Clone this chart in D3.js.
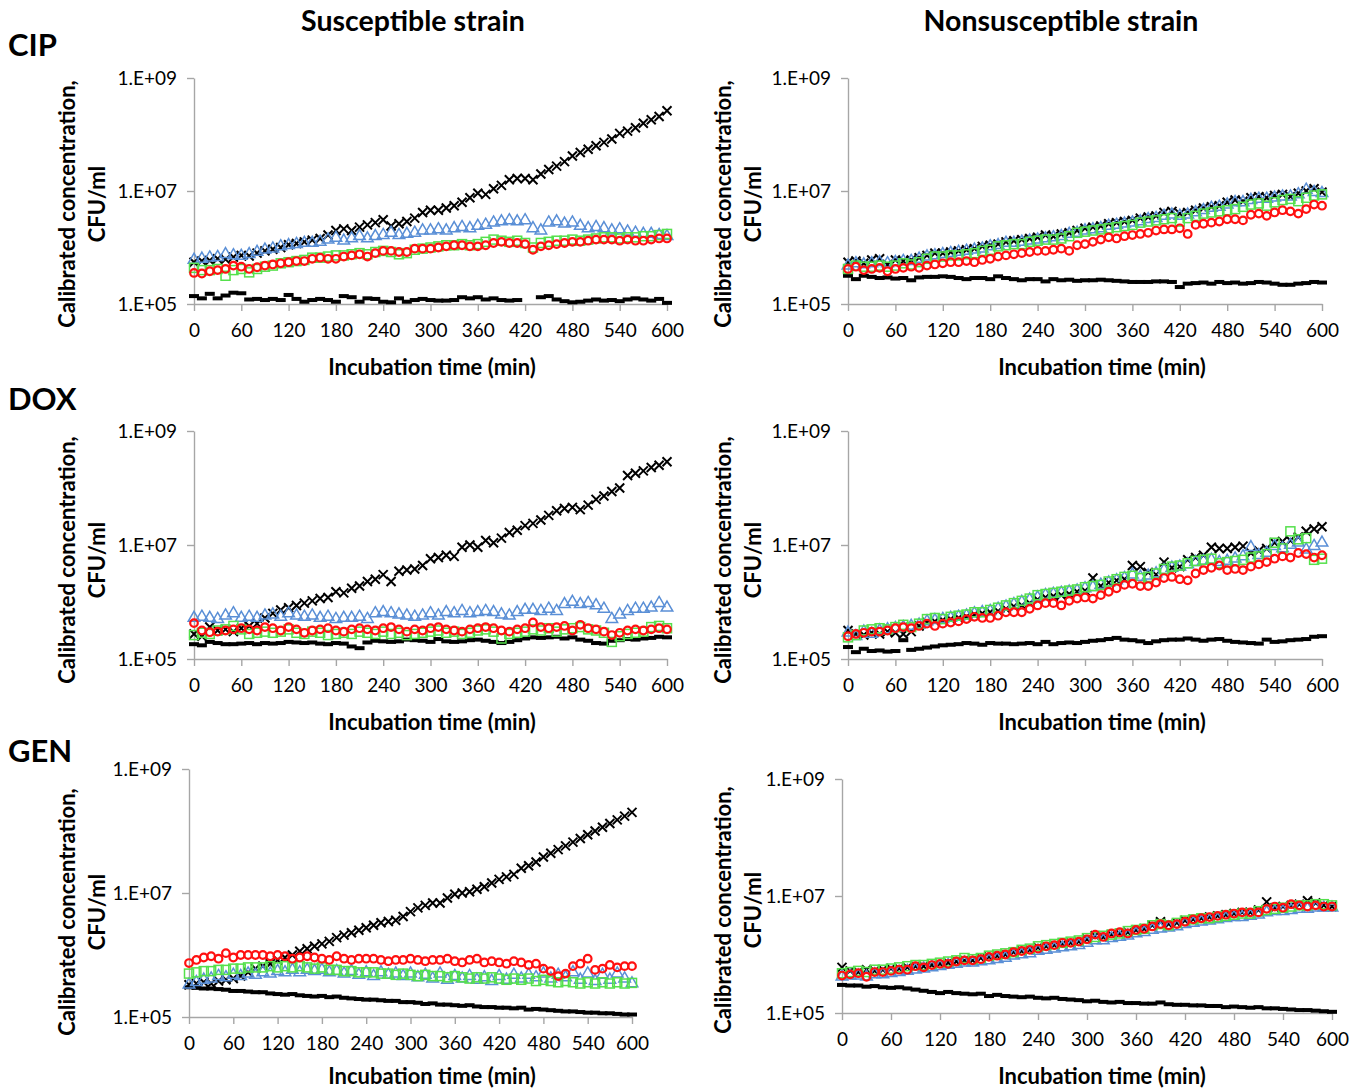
<!DOCTYPE html>
<html>
<head>
<meta charset="utf-8">
<script src="https://cdn.jsdelivr.net/npm/d3@7"></script>
<style>
  body { margin: 0; background: #fff; }
  svg { display: block; font-family: Lato, "Open Sans", sans-serif; }
  .axis path, .axis line { stroke: #a6a6a6; stroke-width: 1.4px; }
  .axis text { fill: #000; font-size: 19px; font-family: Lato, sans-serif; }
  .title { font-weight: bold; fill: #000; }
</style>
</head>
<body>
<script>
// values are log10(CFU/ml), one point every 10 min
var times = [0, 10, 20, 30, 40, 50, 60, 70, 80, 90,
  100, 110, 120, 130, 140, 150, 160, 170, 180, 190,
  200, 210, 220, 230, 240, 250, 260, 270, 280, 290,
  300, 310, 320, 330, 340, 350, 360, 370, 380, 390,
  400, 410, 420, 430, 440, 450, 460, 470, 480, 490,
  500, 510, 520, 530, 540, 550, 560, 570, 580, 590, 600];

var xTicks = [0, 60, 120, 180, 240, 300, 360, 420, 480, 540, 600];
var yTicks = [1e5, 1e7, 1e9];
var yTickLabels = ["1.E+05", "1.E+07", "1.E+09"];
var rowLabels = ["CIP", "DOX", "GEN"];
var colLabels = ["Susceptible strain", "Nonsusceptible strain"];

// CIP, susceptible
var cipSusCross = [5.74, 5.76, 5.77, 5.80, 5.79, 5.83, 5.86, 5.85, 5.90, 5.94,
  5.97, 6.00, 6.05, 6.07, 6.10, 6.13, 6.16, 6.22, 6.30, 6.33,
  6.30, 6.36, 6.40, 6.44, 6.49, 6.38, 6.42, 6.46, 6.52, 6.62,
  6.66, 6.66, 6.70, 6.74, 6.80, 6.88, 6.96, 6.94, 7.04, 7.10,
  7.20, 7.22, 7.22, 7.20, 7.30, 7.38, 7.44, 7.52, 7.62, 7.68,
  7.74, 7.80, 7.86, 7.92, 8.02, 8.06, 8.12, 8.20, 8.26, 8.32, 8.42];
var cipSusTri = [5.78, 5.80, 5.82, 5.83, 5.88, 5.86, 5.85, 5.88, 5.92, 5.96,
  5.98, 6.02, 6.04, 6.06, 6.08, 6.08, 6.10, 6.14, 6.17, 6.12,
  6.16, 6.20, 6.16, 6.20, 6.22, 6.26, 6.22, 6.24, 6.26, 6.30,
  6.30, 6.32, 6.30, 6.34, 6.36, 6.34, 6.38, 6.40, 6.44, 6.46,
  6.48, 6.46, 6.48, 6.34, 6.30, 6.44, 6.46, 6.42, 6.44, 6.38,
  6.34, 6.36, 6.34, 6.30, 6.32, 6.28, 6.26, 6.24, 6.24, 6.22, 6.20];
var cipSusSquare = [5.64, 5.60, 5.60, 5.62, 5.50, 5.60, 5.62, 5.56, 5.62, 5.66,
  5.68, 5.72, 5.74, 5.76, 5.78, 5.82, 5.82, 5.84, 5.86, 5.86,
  5.88, 5.90, 5.88, 5.92, 5.94, 5.92, 5.88, 5.90, 5.96, 5.98,
  6.00, 6.02, 6.04, 6.04, 6.06, 6.04, 6.06, 6.10, 6.14, 6.12,
  6.10, 6.12, 6.08, 6.00, 6.08, 6.10, 6.12, 6.12, 6.14, 6.12,
  6.14, 6.16, 6.18, 6.18, 6.16, 6.18, 6.18, 6.20, 6.20, 6.22, 6.24];
var cipSusCircle = [5.55, 5.54, 5.58, 5.60, 5.62, 5.68, 5.66, 5.62, 5.65, 5.68,
  5.70, 5.72, 5.74, 5.76, 5.76, 5.80, 5.82, 5.80, 5.80, 5.84,
  5.86, 5.88, 5.84, 5.90, 5.94, 5.94, 5.92, 5.92, 5.98, 5.98,
  5.98, 6.00, 6.02, 6.04, 6.04, 6.02, 6.02, 6.04, 6.08, 6.10,
  6.08, 6.08, 6.06, 5.96, 6.02, 6.04, 6.06, 6.08, 6.10, 6.10,
  6.12, 6.14, 6.14, 6.14, 6.12, 6.14, 6.12, 6.12, 6.14, 6.16, 6.16];
var cipSusDash = [5.14, 5.10, 5.18, 5.10, 5.15, 5.20, 5.19, 5.08, 5.09, 5.07,
  5.09, 5.07, 5.16, 5.09, 5.04, 5.07, 5.09, 5.07, 5.04, 5.14,
  5.12, 5.04, 5.10, 5.09, 5.04, 5.03, 5.10, 5.04, 5.07, 5.09,
  5.07, 5.06, 5.06, 5.07, 5.12, 5.10, 5.12, 5.08, 5.10, 5.07,
  5.06, 5.07, null, null, 5.12, 5.14, 5.08, 5.05, 5.03, 5.04,
  5.06, 5.08, 5.06, 5.07, 5.05, 5.08, 5.10, 5.08, 5.06, 5.09, 5.02];

// CIP, nonsusceptible
var cipNonCross = [5.74, 5.76, 5.72, 5.78, 5.80, 5.70, 5.78, 5.76, 5.78, 5.82,
  5.86, 5.90, 5.90, 5.92, 5.94, 5.96, 5.98, 6.02, 6.04, 6.06,
  6.10, 6.12, 6.14, 6.16, 6.18, 6.22, 6.20, 6.24, 6.26, 6.30,
  6.34, 6.36, 6.38, 6.42, 6.44, 6.46, 6.48, 6.52, 6.54, 6.56,
  6.62, 6.64, 6.60, 6.62, 6.66, 6.70, 6.72, 6.74, 6.80, 6.84,
  6.82, 6.88, 6.90, 6.88, 6.92, 6.94, 6.90, 6.96, 7.00, 7.04, 6.98];
var cipNonTri = [5.68, 5.72, 5.70, 5.72, 5.74, 5.72, 5.74, 5.76, 5.76, 5.80,
  5.84, 5.86, 5.88, 5.90, 5.92, 5.94, 5.96, 5.98, 6.02, 6.04,
  6.08, 6.08, 6.10, 6.12, 6.14, 6.16, 6.18, 6.20, 6.24, 6.26,
  6.30, 6.32, 6.34, 6.38, 6.40, 6.42, 6.44, 6.46, 6.50, 6.52,
  6.56, 6.58, 6.56, 6.58, 6.62, 6.66, 6.70, 6.72, 6.76, 6.80,
  6.80, 6.84, 6.86, 6.86, 6.88, 6.90, 6.90, 6.94, 7.02, 6.98, 6.96];
var cipNonSquare = [5.62, 5.68, 5.66, 5.66, 5.68, 5.66, 5.68, 5.72, 5.70, 5.74,
  5.80, 5.84, 5.84, 5.86, 5.86, 5.88, 5.90, 5.94, 5.96, 6.02,
  6.04, 6.06, 6.06, 6.10, 6.12, 6.14, 6.14, 6.16, 6.20, 6.26,
  6.28, 6.30, 6.32, 6.34, 6.36, 6.38, 6.40, 6.44, 6.46, 6.48,
  6.50, 6.52, 6.46, 6.52, 6.56, 6.60, 6.62, 6.64, 6.66, 6.68,
  6.72, 6.76, 6.78, 6.74, 6.80, 6.84, 6.86, 6.82, 6.88, 6.92, 6.94];
var cipNonCircle = [5.62, 5.66, 5.60, 5.62, 5.64, 5.58, 5.62, 5.64, 5.66, 5.64,
  5.68, 5.70, 5.72, 5.74, 5.74, 5.76, 5.74, 5.78, 5.80, 5.84,
  5.86, 5.88, 5.90, 5.92, 5.94, 5.94, 5.96, 5.98, 5.94, 6.04,
  6.06, 6.10, 6.14, 6.18, 6.16, 6.20, 6.22, 6.24, 6.26, 6.30,
  6.32, 6.32, 6.34, 6.24, 6.40, 6.42, 6.44, 6.46, 6.50, 6.50,
  6.48, 6.58, 6.60, 6.56, 6.62, 6.66, 6.64, 6.60, 6.68, 6.76, 6.74];
var cipNonDash = [5.50, 5.44, 5.50, 5.48, 5.46, 5.47, 5.45, 5.46, 5.42, 5.47,
  5.48, 5.48, 5.49, 5.48, 5.46, 5.44, 5.46, 5.46, 5.44, 5.49,
  5.46, 5.44, 5.42, 5.44, 5.44, 5.40, 5.44, 5.42, 5.43, 5.41,
  5.42, 5.42, 5.43, 5.42, 5.41, 5.40, 5.39, 5.39, 5.39, 5.40,
  5.40, 5.39, 5.30, 5.36, 5.37, 5.38, 5.36, 5.39, 5.37, 5.38,
  5.36, 5.37, 5.39, 5.38, 5.36, 5.34, 5.34, 5.36, 5.37, 5.39, 5.38];

// DOX, susceptible
var doxSusCross = [5.44, 5.40, 5.56, 5.50, 5.52, 5.48, 5.54, 5.58, 5.62, 5.72,
  5.80, 5.86, 5.90, 5.94, 5.98, 6.02, 6.06, 6.08, 6.18, 6.16,
  6.24, 6.28, 6.36, 6.40, 6.48, 6.36, 6.54, 6.56, 6.58, 6.64,
  6.76, 6.78, 6.82, 6.80, 6.96, 7.00, 6.96, 7.08, 7.04, 7.12,
  7.22, 7.26, 7.34, 7.38, 7.44, 7.52, 7.60, 7.64, 7.66, 7.62,
  7.70, 7.80, 7.86, 7.94, 8.00, 8.22, 8.26, 8.30, 8.36, 8.40, 8.46];
var doxSusTri = [5.72, 5.74, 5.72, 5.70, 5.76, 5.80, 5.72, 5.74, 5.72, 5.76,
  5.78, 5.74, 5.80, 5.76, 5.74, 5.76, 5.72, 5.74, 5.70, 5.72,
  5.72, 5.74, 5.70, 5.80, 5.82, 5.80, 5.78, 5.76, 5.74, 5.76,
  5.80, 5.76, 5.82, 5.80, 5.84, 5.80, 5.82, 5.84, 5.82, 5.78,
  5.76, 5.82, 5.86, 5.86, 5.84, 5.88, 5.84, 5.96, 6.00, 5.96,
  5.98, 5.94, 5.88, 5.70, 5.78, 5.84, 5.88, 5.88, 5.90, 5.98, 5.90];
var doxSusSquare = [5.42, 5.46, 5.44, 5.50, 5.52, 5.58, 5.52, 5.44, 5.46, 5.48,
  5.46, 5.48, 5.52, 5.46, 5.44, 5.48, 5.46, 5.42, 5.44, 5.46,
  5.44, 5.48, 5.46, 5.44, 5.48, 5.44, 5.46, 5.42, 5.44, 5.46,
  5.48, 5.50, 5.46, 5.48, 5.44, 5.46, 5.50, 5.52, 5.48, 5.36,
  5.44, 5.46, 5.48, 5.52, 5.50, 5.54, 5.48, 5.52, 5.54, 5.56,
  5.52, 5.50, 5.46, 5.30, 5.40, 5.44, 5.46, 5.48, 5.56, 5.58, 5.54];
var doxSusCircle = [5.63, 5.50, 5.47, 5.48, 5.50, 5.52, 5.54, 5.52, 5.50, 5.56,
  5.54, 5.50, 5.56, 5.52, 5.46, 5.50, 5.52, 5.54, 5.50, 5.48,
  5.52, 5.54, 5.52, 5.50, 5.54, 5.56, 5.52, 5.48, 5.52, 5.50,
  5.54, 5.56, 5.52, 5.50, 5.48, 5.52, 5.54, 5.56, 5.54, 5.50,
  5.48, 5.52, 5.54, 5.64, 5.56, 5.54, 5.56, 5.58, 5.50, 5.60,
  5.54, 5.52, 5.48, 5.42, 5.46, 5.50, 5.52, 5.50, 5.52, 5.54, 5.52];
var doxSusDash = [5.26, 5.24, 5.30, 5.28, 5.26, 5.26, 5.27, 5.28, 5.26, 5.28,
  5.27, 5.28, 5.30, 5.29, 5.28, 5.29, 5.27, 5.26, 5.28, 5.27,
  5.22, 5.19, 5.29, 5.32, 5.31, 5.30, 5.31, 5.34, 5.33, 5.32,
  5.30, 5.35, 5.31, 5.30, 5.31, 5.33, 5.34, 5.32, 5.30, 5.28,
  5.30, 5.33, 5.36, 5.38, 5.37, 5.38, 5.39, 5.36, 5.38, 5.34,
  5.32, 5.28, 5.27, 5.32, 5.33, 5.35, 5.34, 5.36, 5.37, 5.39, 5.38];

// DOX, nonsusceptible
var doxNonCross = [5.50, 5.44, 5.42, 5.46, 5.44, 5.48, 5.46, 5.44, 5.48, 5.58,
  5.64, 5.66, 5.68, 5.70, 5.72, 5.74, 5.78, 5.80, 5.82, 5.84,
  5.88, 5.92, 5.94, 5.98, 6.04, 6.08, 6.10, 6.12, 6.14, 6.18,
  6.20, 6.42, 6.28, 6.34, 6.38, 6.40, 6.64, 6.62, 6.52, 6.48,
  6.70, 6.60, 6.62, 6.74, 6.78, 6.82, 6.96, 6.94, 6.94, 6.96,
  6.98, 6.86, 6.90, 6.94, 7.04, 7.06, 7.08, 7.14, 7.24, 7.28, 7.32];
var doxNonTri = [5.46, 5.40, 5.48, 5.44, 5.50, 5.52, 5.54, 5.56, 5.58, 5.60,
  5.66, 5.68, 5.70, 5.72, 5.74, 5.76, 5.80, 5.82, 5.84, 5.88,
  5.92, 5.96, 6.00, 6.04, 6.08, 6.12, 6.14, 6.16, 6.18, 6.20,
  6.24, 6.26, 6.30, 6.34, 6.38, 6.42, 6.48, 6.44, 6.46, 6.50,
  6.56, 6.60, 6.62, 6.66, 6.70, 6.72, 6.74, 6.70, 6.72, 6.76,
  6.80, 6.96, 6.82, 6.86, 6.98, 6.94, 7.00, 7.04, 6.92, 6.98, 7.04];
var doxNonSquare = [5.38, 5.42, 5.50, 5.52, 5.54, 5.52, 5.56, 5.60, 5.56, 5.62,
  5.70, 5.72, 5.70, 5.74, 5.76, 5.78, 5.82, 5.82, 5.86, 5.90,
  5.94, 5.98, 6.02, 6.06, 6.12, 6.14, 6.16, 6.18, 6.20, 6.22,
  6.26, 6.28, 6.30, 6.36, 6.40, 6.44, 6.46, 6.42, 6.44, 6.50,
  6.58, 6.62, 6.64, 6.68, 6.72, 6.74, 6.76, 6.68, 6.70, 6.72,
  6.74, 6.78, 6.80, 6.84, 7.04, 6.94, 7.24, 7.10, 7.12, 6.74, 6.76];
var doxNonCircle = [5.40, 5.44, 5.46, 5.48, 5.48, 5.50, 5.54, 5.56, 5.54, 5.58,
  5.62, 5.58, 5.62, 5.64, 5.66, 5.70, 5.74, 5.72, 5.72, 5.76,
  5.82, 5.82, 5.82, 5.88, 5.94, 5.98, 5.98, 5.94, 6.02, 6.06,
  6.08, 6.06, 6.12, 6.18, 6.24, 6.30, 6.32, 6.28, 6.28, 6.34,
  6.42, 6.44, 6.40, 6.38, 6.50, 6.56, 6.60, 6.64, 6.56, 6.58,
  6.56, 6.62, 6.66, 6.70, 6.76, 6.80, 6.78, 6.86, 6.84, 6.78, 6.82];
var doxNonDash = [5.21, 5.12, 5.18, 5.14, 5.15, 5.13, 5.14, 5.33, 5.16, 5.18,
  5.20, 5.22, 5.24, 5.25, 5.26, 5.28, 5.27, 5.25, 5.28, 5.27,
  5.27, 5.26, 5.27, 5.28, 5.26, 5.30, 5.26, 5.28, 5.29, 5.28,
  5.30, 5.32, 5.33, 5.35, 5.37, 5.34, 5.33, 5.31, 5.28, 5.31,
  5.33, 5.34, 5.34, 5.36, 5.34, 5.32, 5.34, 5.35, 5.32, 5.30,
  5.29, 5.28, 5.27, 5.34, 5.30, 5.31, 5.33, 5.34, 5.35, 5.39, 5.40];

// GEN, susceptible
var genSusCross = [5.52, 5.54, 5.56, 5.54, 5.58, 5.60, 5.62, 5.66, 5.72, 5.78,
  5.82, 5.86, 5.92, 5.96, 6.00, 6.06, 6.10, 6.14, 6.18, 6.22,
  6.28, 6.32, 6.36, 6.40, 6.44, 6.48, 6.52, 6.54, 6.56, 6.62,
  6.70, 6.76, 6.80, 6.84, 6.84, 6.92, 6.98, 7.00, 7.02, 7.06,
  7.10, 7.16, 7.22, 7.26, 7.30, 7.40, 7.44, 7.50, 7.58, 7.64,
  7.70, 7.76, 7.82, 7.88, 7.94, 8.00, 8.06, 8.12, 8.18, 8.24, 8.30];
var genSusTri = [5.52, 5.56, 5.60, 5.62, 5.66, 5.64, 5.68, 5.66, 5.70, 5.68,
  5.72, 5.70, 5.74, 5.72, 5.76, 5.72, 5.76, 5.74, 5.76, 5.72,
  5.74, 5.70, 5.74, 5.68, 5.72, 5.66, 5.72, 5.68, 5.70, 5.66,
  5.70, 5.64, 5.68, 5.62, 5.70, 5.60, 5.66, 5.62, 5.66, 5.60,
  5.64, 5.58, 5.66, 5.60, 5.68, 5.62, 5.68, 5.64, 5.70, 5.62,
  5.68, 5.64, 5.72, 5.60, 5.70, 5.58, 5.68, 5.60, 5.70, 5.62, 5.54];
var genSusSquare = [5.70, 5.72, 5.74, 5.74, 5.76, 5.76, 5.78, 5.78, 5.80, 5.80,
  5.80, 5.82, 5.80, 5.82, 5.80, 5.82, 5.80, 5.78, 5.80, 5.76,
  5.76, 5.74, 5.74, 5.72, 5.72, 5.72, 5.70, 5.70, 5.68, 5.70,
  5.68, 5.66, 5.68, 5.66, 5.66, 5.64, 5.66, 5.64, 5.62, 5.64,
  5.62, 5.64, 5.62, 5.60, 5.62, 5.60, 5.62, 5.58, 5.60, 5.58,
  5.56, 5.58, 5.56, 5.54, 5.56, 5.54, 5.56, 5.54, 5.56, 5.54, 5.55];
var genSusCircle = [5.87, 5.92, 5.96, 5.98, 5.94, 6.03, 5.96, 6.00, 6.00, 6.00,
  6.00, 5.98, 6.00, 5.98, 5.94, 5.96, 5.98, 5.96, 5.94, 5.92,
  5.98, 5.94, 5.92, 5.94, 5.94, 5.94, 5.92, 5.90, 5.92, 5.92,
  5.94, 5.92, 5.90, 5.92, 5.92, 5.94, 5.90, 5.88, 5.92, 5.94,
  5.88, 5.90, 5.88, 5.86, 5.90, 5.88, 5.84, 5.86, 5.78, 5.74,
  5.66, 5.70, 5.82, 5.86, 5.94, 5.76, 5.78, 5.84, 5.80, 5.82, 5.82];
var genSusDash = [5.48, 5.47, 5.46, 5.46, 5.45, 5.44, 5.42, 5.42, 5.41, 5.40,
  5.40, 5.38, 5.37, 5.36, 5.37, 5.35, 5.34, 5.33, 5.34, 5.32,
  5.33, 5.31, 5.30, 5.29, 5.28, 5.28, 5.27, 5.26, 5.26, 5.24,
  5.24, 5.23, 5.21, 5.22, 5.20, 5.20, 5.19, 5.18, 5.19, 5.17,
  5.16, 5.16, 5.15, 5.15, 5.14, 5.15, 5.12, 5.13, 5.12, 5.11,
  5.10, 5.09, 5.09, 5.08, 5.07, 5.07, 5.06, 5.06, 5.05, 5.04, 5.04];

// GEN, nonsusceptible
var genNonCross = [5.78, 5.72, 5.70, 5.74, 5.72, 5.74, 5.76, 5.76, 5.78, 5.80,
  5.80, 5.82, 5.84, 5.86, 5.88, 5.90, 5.90, 5.94, 5.96, 5.98,
  6.00, 6.04, 6.06, 6.08, 6.12, 6.14, 6.16, 6.18, 6.20, 6.22,
  6.26, 6.32, 6.30, 6.34, 6.36, 6.38, 6.42, 6.44, 6.50, 6.56,
  6.52, 6.54, 6.58, 6.60, 6.62, 6.64, 6.66, 6.68, 6.70, 6.72,
  6.72, 6.76, 6.90, 6.80, 6.82, 6.84, 6.86, 6.92, 6.88, 6.84, 6.82];
var genNonTri = [5.62, 5.64, 5.64, 5.62, 5.66, 5.66, 5.68, 5.70, 5.72, 5.74,
  5.76, 5.78, 5.80, 5.82, 5.84, 5.86, 5.86, 5.88, 5.90, 5.92,
  5.94, 5.98, 6.00, 6.02, 6.06, 6.08, 6.10, 6.12, 6.14, 6.16,
  6.20, 6.24, 6.24, 6.28, 6.30, 6.32, 6.36, 6.38, 6.42, 6.44,
  6.46, 6.48, 6.52, 6.54, 6.56, 6.58, 6.60, 6.62, 6.64, 6.64,
  6.66, 6.68, 6.72, 6.74, 6.74, 6.76, 6.78, 6.78, 6.80, 6.80, 6.80];
var genNonSquare = [5.68, 5.70, 5.72, 5.70, 5.74, 5.74, 5.76, 5.78, 5.80, 5.82,
  5.82, 5.84, 5.86, 5.88, 5.90, 5.94, 5.92, 5.94, 5.98, 6.00,
  6.02, 6.04, 6.08, 6.10, 6.14, 6.16, 6.18, 6.20, 6.22, 6.24,
  6.28, 6.30, 6.32, 6.34, 6.36, 6.40, 6.42, 6.44, 6.50, 6.52,
  6.50, 6.54, 6.58, 6.60, 6.62, 6.62, 6.64, 6.66, 6.68, 6.70,
  6.70, 6.74, 6.76, 6.78, 6.80, 6.82, 6.84, 6.84, 6.86, 6.86, 6.84];
var genNonCircle = [5.64, 5.66, 5.68, 5.62, 5.70, 5.70, 5.72, 5.74, 5.74, 5.80,
  5.78, 5.82, 5.84, 5.84, 5.88, 5.90, 5.90, 5.92, 5.96, 5.98,
  6.00, 6.04, 6.06, 6.08, 6.10, 6.14, 6.16, 6.20, 6.20, 6.22,
  6.26, 6.34, 6.30, 6.36, 6.38, 6.36, 6.42, 6.44, 6.48, 6.52,
  6.50, 6.52, 6.56, 6.60, 6.62, 6.64, 6.66, 6.68, 6.70, 6.72,
  6.72, 6.72, 6.78, 6.82, 6.80, 6.86, 6.84, 6.82, 6.84, 6.82, 6.82];
var genNonDash = [5.48, 5.47, 5.47, 5.45, 5.46, 5.44, 5.43, 5.44, 5.42, 5.40,
  5.38, 5.36, 5.34, 5.36, 5.34, 5.33, 5.32, 5.33, 5.29, 5.31,
  5.29, 5.28, 5.27, 5.28, 5.26, 5.25, 5.26, 5.24, 5.23, 5.22,
  5.20, 5.21, 5.19, 5.18, 5.19, 5.17, 5.17, 5.16, 5.16, 5.18,
  5.15, 5.14, 5.14, 5.13, 5.13, 5.12, 5.12, 5.10, 5.11, 5.10,
  5.09, 5.10, 5.08, 5.08, 5.07, 5.06, 5.05, 5.05, 5.04, 5.03, 5.02];

var panels = [
  {dash: cipSusDash, cross: cipSusCross, tri: cipSusTri, square: cipSusSquare, circle: cipSusCircle},
  {dash: cipNonDash, cross: cipNonCross, tri: cipNonTri, square: cipNonSquare, circle: cipNonCircle},
  {dash: doxSusDash, cross: doxSusCross, tri: doxSusTri, square: doxSusSquare, circle: doxSusCircle},
  {dash: doxNonDash, cross: doxNonCross, tri: doxNonTri, square: doxNonSquare, circle: doxNonCircle},
  {dash: genSusDash, cross: genSusCross, tri: genSusTri, square: genSusSquare, circle: genSusCircle},
  {dash: genNonDash, cross: genNonCross, tri: genNonTri, square: genNonSquare, circle: genNonCircle}
];

// where each plot sits on the page
var boxes = [
  {x0: 194, x1: 667, top: 78, bottom: 304, titleX: 432, titleY: 375, ytX: 67, ytY: 204},
  {x0: 848, x1: 1322, top: 78, bottom: 304, titleX: 1102, titleY: 375, ytX: 723, ytY: 204},
  {x0: 194, x1: 667, top: 431, bottom: 659, titleX: 432, titleY: 730, ytX: 67, ytY: 560},
  {x0: 848, x1: 1322, top: 431, bottom: 659, titleX: 1102, titleY: 730, ytX: 723, ytY: 560},
  {x0: 189, x1: 632, top: 769, bottom: 1017, titleX: 432, titleY: 1084, ytX: 67, ytY: 912},
  {x0: 842, x1: 1332, top: 779, bottom: 1013, titleX: 1102, titleY: 1084, ytX: 723, ytY: 910}
];

var svg = d3.select("body").append("svg")
  .attr("width", 1362)
  .attr("height", 1089);

svg.selectAll("text.col")
  .data(colLabels)
  .enter().append("text")
  .attr("class", "title col")
  .attr("x", (d, i) => i == 0 ? 413 : 1061)
  .attr("y", 31)
  .attr("text-anchor", "middle")
  .style("font-size", "28.5px")
  .text(d => d);

svg.selectAll("text.row")
  .data(rowLabels)
  .enter().append("text")
  .attr("class", "title row")
  .attr("x", 8)
  .attr("y", (d, i) => [56, 410, 762][i])
  .style("font-size", "31px")
  .text(d => d);

var blue = "#5a8fd6";
var green = "#55e04c";
var red = "#ff1010";

panels.forEach(function(p, k) {
  var b = boxes[k];
  var x = d3.scaleLinear().domain([0, 600]).range([b.x0, b.x1]);
  var y = d3.scaleLog().domain([1e5, 1e9]).range([b.bottom, b.top]);
  var g = svg.append("g");

  g.append("g")
    .attr("class", "axis")
    .attr("transform", `translate(0, ${b.bottom})`)
    .call(d3.axisBottom(x).tickValues(xTicks).tickSize(7).tickSizeOuter(0).tickPadding(13));

  g.append("g")
    .attr("class", "axis")
    .attr("transform", `translate(${b.x0}, 0)`)
    .call(d3.axisLeft(y).tickValues(yTicks).tickFormat((d, i) => yTickLabels[i]).tickSize(7).tickSizeOuter(0).tickPadding(10));

  g.append("text")
    .attr("class", "title")
    .attr("x", b.titleX)
    .attr("y", b.titleY)
    .attr("text-anchor", "middle")
    .style("font-size", "22px")
    .text("Incubation time (min)");

  ["Calibrated concentration,", "CFU/ml"].forEach(function(line, i) {
    g.append("text")
      .attr("class", "title")
      .attr("transform", `translate(${b.ytX + i * 30}, ${b.ytY}) rotate(-90)`)
      .attr("text-anchor", "middle")
      .attr("dy", "0.36em")
      .style("font-size", "22px")
      .text(line);
  });

  function pts(vals) {
    return vals.map((v, i) => ({t: times[i], v: v})).filter(d => d.v != null);
  }
  function pos(d) {
    return `translate(${x(d.t)}, ${y(Math.pow(10, d.v))})`;
  }

  g.selectAll(".dash").data(pts(p.dash)).enter().append("rect")
    .attr("class", "dash")
    .attr("transform", pos)
    .attr("x", -5).attr("y", -2)
    .attr("width", 10).attr("height", 4)
    .attr("fill", "#000");

  g.selectAll(".cross").data(pts(p.cross)).enter().append("path")
    .attr("class", "cross")
    .attr("transform", pos)
    .attr("d", "M-4.5,-4.5L4.5,4.5M-4.5,4.5L4.5,-4.5")
    .attr("stroke", "#000")
    .attr("stroke-width", 2)
    .attr("fill", "none");

  g.selectAll(".tri").data(pts(p.tri)).enter().append("path")
    .attr("class", "tri")
    .attr("transform", pos)
    .attr("d", d3.symbol(d3.symbolTriangle, 58))
    .attr("stroke", blue)
    .attr("stroke-width", 1.5)
    .attr("fill", "none");

  g.selectAll(".square").data(pts(p.square)).enter().append("rect")
    .attr("class", "square")
    .attr("transform", pos)
    .attr("x", -4.5).attr("y", -4.5)
    .attr("width", 9).attr("height", 9)
    .attr("stroke", green)
    .attr("stroke-width", 1.5)
    .attr("fill", "none");

  g.selectAll(".circle").data(pts(p.circle)).enter().append("circle")
    .attr("class", "circle")
    .attr("transform", pos)
    .attr("r", 3.8)
    .attr("stroke", red)
    .attr("stroke-width", 2.2)
    .attr("fill", "none");
});
</script>
</body>
</html>
